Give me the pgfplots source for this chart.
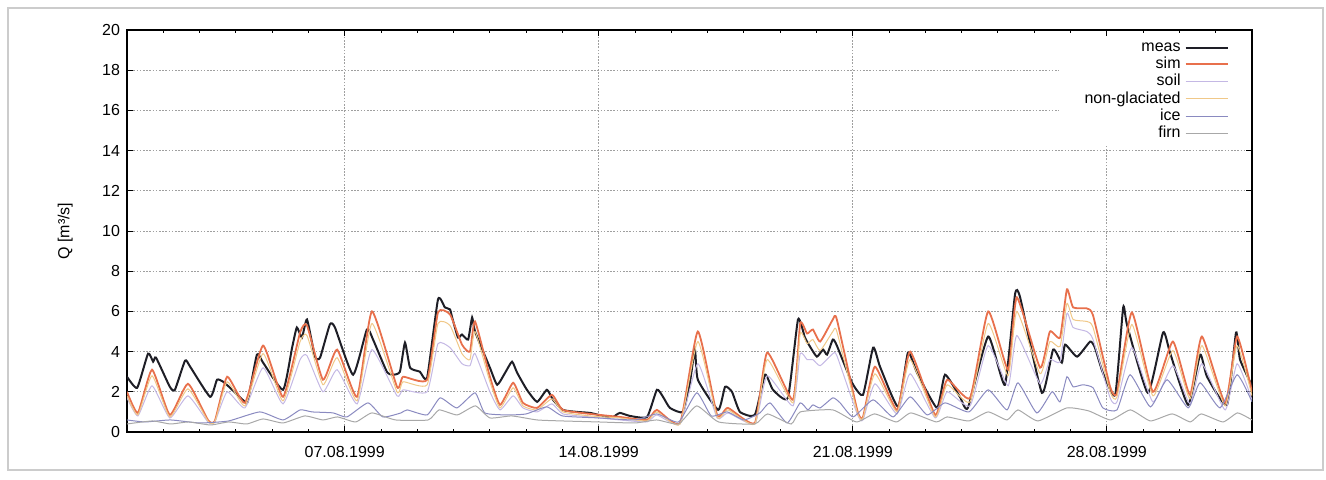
\documentclass[border=0pt]{standalone}
\usepackage{fontspec}
\setmainfont{Liberation Sans}
\usepackage{pgfplots}
\pgfplotsset{compat=1.18}

\definecolor{measc}{HTML}{1E1E26}
\definecolor{simc}{HTML}{E8704C}
\definecolor{soilc}{HTML}{C4B8E4}
\definecolor{ngc}{HTML}{F0C888}
\definecolor{icec}{HTML}{8A8AC0}
\definecolor{firnc}{HTML}{A8A8A8}

\begin{document}
\begin{tikzpicture}
\useasboundingbox (0,0) rectangle (663pt,239.5pt);
\draw[gray!40, line width=0.6pt] (4pt,4.5pt) rectangle (661.5pt,235.5pt);
\begin{axis}[
  at={(63.5pt,23.5pt)}, anchor=south west,
  width=562.5pt, height=201pt, scale only axis,
  xmin=0, xmax=31, ymin=0, ymax=20,
  xtick={6,13,20,27},
  xticklabels={07.08.1999,14.08.1999,21.08.1999,28.08.1999},
  minor xtick={0,...,31},
  ytick={0,2,...,20},
  tick align=inside,
  major tick length=3pt, minor tick length=1.5pt,
  grid=major,
  major grid style={gray!75, line width=0.4pt, dash pattern=on 0.8pt off 0.8pt},
  axis line style={line width=0.7pt},
  every tick/.style={black, line width=0.5pt},
  tick label style={font=\fontsize{8}{9.6}\selectfont},
  xticklabel style={yshift=-3.5pt},
  /pgf/number format/assume math mode=true,
  ylabel={Q [m³/s]},
  ylabel style={at={(axis description cs:-0.055,0.5)}, anchor=center, font=\fontsize{8}{9.6}\selectfont},
  legend style={at={(rel axis cs:1,1)}, anchor=north east, yshift=-3.5pt, xshift=-0.5pt,
    draw=none, fill=white, font=\fontsize{8}{9.6}\selectfont,
    inner xsep=11pt, inner ysep=0.5pt, row sep=-2.6pt},
  legend cell align=right,
  legend plot pos=right,
  legend image code/.code={\draw[#1] (0pt,0pt) -- (21pt,0pt);},
  every axis plot/.append style={smooth, tension=0.3},
]
% measured discharge
\addplot[measc, line width=1pt] coordinates {
(0.00,2.75) (0.28,2.2) (0.58,3.9) (0.72,3.5) (0.80,3.7) (1.18,2.25) (1.32,2.1)
(1.60,3.55) (1.74,3.25) (2.29,1.75) (2.48,2.6) (2.65,2.5) (2.84,2.2) (3.25,1.5)
(3.33,1.55) (3.58,3.85) (3.75,3.45) (4.30,2.1) (4.55,4.2) (4.68,5.2) (4.82,4.7)
(4.96,5.6) (5.18,3.75) (5.32,3.7) (5.59,5.35) (5.73,5.2) (6.23,2.85) (6.61,5.1)
(6.78,4.6) (7.16,3.0) (7.33,2.85) (7.52,3.0) (7.66,4.45) (7.80,3.2) (8.07,3.0)
(8.27,2.7) (8.57,6.6) (8.76,6.2) (8.90,6.1) (8.96,5.7) (9.12,4.7) (9.23,4.85)
(9.40,4.6) (9.51,5.7) (9.59,5.0) (10.00,3.2) (10.20,2.35) (10.42,2.95) (10.61,3.5)
(10.75,2.95) (11.02,2.1) (11.30,1.5) (11.57,2.1) (11.74,1.6) (12.01,1.1) (12.40,1.0)
(12.76,0.95) (13.12,0.8) (13.39,0.75) (13.58,0.95) (13.86,0.8) (14.33,0.75) (14.60,2.1)
(14.77,1.75) (14.96,1.2) (15.32,1.0) (15.51,2.45) (15.65,4.1) (15.73,2.6) (16.29,1.1)
(16.48,2.25) (16.67,2.0) (16.89,1.0) (17.30,0.85) (17.58,2.85) (17.80,2.1) (18.21,1.7)
(18.49,5.6) (18.68,4.7) (18.82,4.25) (19.01,3.75) (19.18,4.1) (19.29,3.85) (19.45,4.6)
(19.56,4.3) (19.98,2.45) (20.28,1.85) (20.56,4.2) (20.75,3.25) (21.25,1.25) (21.52,3.95)
(21.77,2.95) (22.32,1.2) (22.54,2.85) (22.95,1.75) (23.17,1.2) (23.73,4.75) (24.19,2.35)
(24.47,6.85) (24.61,6.7) (25.21,1.95) (25.52,4.1) (25.76,3.45) (25.85,4.35) (26.18,3.75)
(26.54,4.5) (26.67,4.2) (26.89,2.95) (27.23,1.85) (27.45,6.2) (27.56,5.3) (28.13,1.95)
(28.55,4.95) (28.74,3.95) (29.24,1.35) (29.57,3.85) (29.76,2.75) (30.31,1.35) (30.56,4.95)
(30.67,3.6) (31.00,2.3)
};
\addlegendentry{meas}
% simulated total discharge
\addplot[simc, line width=0.9pt] coordinates {
(0.00,2.0) (0.30,0.95) (0.69,3.1) (1.18,0.85) (1.68,2.4) (2.23,0.6) (2.42,0.55)
(2.76,2.75) (3.25,1.45) (3.75,4.3) (4.30,1.75) (4.77,4.95) (4.96,5.3) (5.40,2.6)
(5.79,4.1) (6.34,1.75) (6.75,6.0) (7.44,2.25) (7.61,2.75) (8.27,2.6) (8.57,5.95)
(8.90,5.85) (9.23,4.35) (9.45,4.0) (9.59,5.5) (10.00,2.75) (10.28,1.35) (10.64,2.45)
(10.91,1.45) (11.30,1.2) (11.71,1.85) (12.01,1.1) (12.76,0.9) (13.58,0.75) (14.33,0.6)
(14.60,1.1) (15.24,0.45) (15.73,5.0) (16.26,0.85) (16.56,1.2) (17.30,0.45) (17.64,3.95)
(18.35,1.6) (18.55,5.4) (18.74,4.9) (18.90,5.1) (19.10,4.5) (19.45,5.6) (19.56,5.6)
(20.12,1.1) (20.28,0.75) (20.61,3.25) (21.22,1.1) (21.58,4.0) (22.27,0.85) (22.60,2.6)
(23.23,1.7) (23.73,6.0) (24.28,3.1) (24.52,6.7) (25.16,3.2) (25.43,5.0) (25.71,4.7)
(25.90,7.1) (26.07,6.2) (26.45,6.15) (26.62,5.8) (27.09,2.25) (27.28,1.95) (27.69,5.95)
(28.27,2.0) (28.82,4.5) (29.29,1.85) (29.62,4.75) (30.26,1.45) (30.59,4.75) (31.00,2.0)
};
\addlegendentry{sim}
% soil component
\addplot[soilc, line width=0.5pt] coordinates {
(0.00,1.7) (0.30,0.8) (0.69,2.3) (1.18,0.7) (1.68,1.8) (2.23,0.5) (2.42,0.5)
(2.76,2.0) (3.25,1.2) (3.75,3.2) (4.30,1.4) (4.77,3.6) (4.96,3.8) (5.40,2.0)
(5.79,3.1) (6.34,1.4) (6.75,4.1) (7.44,1.8) (7.61,2.1) (8.27,2.0) (8.57,4.4)
(8.90,4.2) (9.23,3.4) (9.45,3.3) (9.59,3.9) (10.00,2.0) (10.28,1.1) (10.64,1.8)
(10.91,1.2) (11.30,1.0) (11.71,1.4) (12.01,0.9) (12.76,0.75) (13.58,0.6) (14.33,0.5)
(14.60,0.85) (15.24,0.4) (15.73,3.4) (16.26,0.7) (16.56,0.95) (17.30,0.4) (17.64,2.8)
(18.35,1.3) (18.55,3.9) (18.74,3.6) (18.90,3.6) (19.10,3.3) (19.45,3.9) (19.56,3.8)
(20.12,0.9) (20.28,0.6) (20.61,2.4) (21.22,0.9) (21.58,2.9) (22.27,0.7) (22.60,2.0)
(23.23,1.3) (23.73,4.3) (24.28,2.3) (24.52,4.8) (25.16,2.4) (25.43,3.6) (25.71,3.5)
(25.90,5.9) (26.07,5.2) (26.45,5.0) (26.62,4.6) (27.09,1.7) (27.28,1.5) (27.69,4.2)
(28.27,1.5) (28.82,3.3) (29.29,1.4) (29.62,3.4) (30.26,1.1) (30.59,3.4) (31.00,1.6)
};
\addlegendentry{soil}
% non-glaciated area
\addplot[ngc, line width=0.5pt] coordinates {
(0.00,1.8) (0.30,0.85) (0.69,2.8) (1.18,0.75) (1.68,2.15) (2.23,0.55) (2.42,0.5)
(2.76,2.5) (3.25,1.3) (3.75,3.9) (4.30,1.55) (4.77,4.5) (4.96,4.8) (5.40,2.35)
(5.79,3.7) (6.34,1.55) (6.75,5.4) (7.44,2.0) (7.61,2.5) (8.27,2.35) (8.57,5.4)
(8.90,5.3) (9.23,3.9) (9.45,3.6) (9.59,5.0) (10.00,2.5) (10.28,1.2) (10.64,2.2)
(10.91,1.3) (11.30,1.1) (11.71,1.65) (12.01,1.0) (12.76,0.8) (13.58,0.7) (14.33,0.55)
(14.60,1.0) (15.24,0.4) (15.73,4.5) (16.26,0.75) (16.56,1.1) (17.30,0.4) (17.64,3.6)
(18.35,1.45) (18.55,4.9) (18.74,4.4) (18.90,4.6) (19.10,4.05) (19.45,5.0) (19.56,5.0)
(20.12,1.0) (20.28,0.7) (20.61,2.9) (21.22,1.0) (21.58,3.6) (22.27,0.75) (22.60,2.35)
(23.23,1.5) (23.73,5.4) (24.28,2.8) (24.52,6.0) (25.16,2.9) (25.43,4.5) (25.71,4.25)
(25.90,6.4) (26.07,5.6) (26.45,5.5) (26.62,5.2) (27.09,2.0) (27.28,1.75) (27.69,5.35)
(28.27,1.8) (28.82,4.05) (29.29,1.65) (29.62,4.3) (30.26,1.3) (30.59,4.3) (31.00,1.8)
};
\addlegendentry{non-glaciated}
% ice melt component
\addplot[icec, line width=0.5pt] coordinates {
(0.00,0.6) (0.50,0.5) (1.20,0.6) (2.00,0.45) (2.80,0.55) (3.66,1.0) (4.30,0.6)
(4.77,1.1) (5.10,1.0) (5.68,0.95) (6.06,0.75) (6.64,1.45) (7.05,0.75) (7.55,0.95)
(7.72,1.1) (8.27,0.85) (8.63,1.7) (9.09,1.2) (9.59,1.95) (9.86,0.95) (10.50,0.85)
(11.00,0.9) (11.57,1.25) (12.00,0.8) (13.00,0.7) (14.00,0.6) (14.60,0.9) (15.20,0.5)
(15.70,1.95) (16.10,0.8) (16.54,1.0) (17.00,0.6) (17.44,0.95) (17.72,1.45) (18.19,0.45)
(18.55,1.45) (18.76,1.1) (18.90,1.35) (19.10,1.2) (19.45,1.7) (19.65,1.45) (20.01,0.75)
(20.56,1.6) (21.11,0.75) (21.58,1.75) (22.05,0.85) (22.54,1.45) (23.20,1.0) (23.73,2.1)
(24.25,1.1) (24.55,2.45) (25.07,0.95) (25.49,2.0) (25.71,1.5) (25.90,2.75) (26.07,2.25)
(26.34,2.35) (26.62,2.2) (26.89,1.2) (27.28,1.1) (27.64,2.85) (28.20,1.25) (28.66,2.6)
(29.24,1.2) (29.57,2.45) (30.12,1.2) (30.59,2.85) (31.00,1.5)
};
\addlegendentry{ice}
% firn melt component
\addplot[firnc, line width=0.5pt] coordinates {
(0.00,0.4) (0.70,0.55) (1.20,0.4) (1.70,0.5) (2.30,0.35) (2.80,0.5) (3.30,0.4)
(3.75,0.65) (4.30,0.45) (4.90,0.8) (5.40,0.6) (5.80,0.75) (6.30,0.5) (6.75,0.95)
(7.40,0.6) (8.30,0.6) (8.60,1.1) (9.10,0.85) (9.60,1.3) (10.00,0.7) (10.60,0.8)
(11.30,0.6) (12.00,0.55) (13.00,0.5) (14.00,0.45) (14.60,0.6) (15.20,0.4) (15.70,1.3)
(16.30,0.5) (17.30,0.4) (17.65,0.9) (18.30,0.4) (18.55,1.0) (19.45,1.1) (20.10,0.5)
(20.60,0.9) (21.20,0.5) (21.60,0.95) (22.30,0.5) (22.60,0.75) (23.20,0.55) (23.73,1.0)
(24.25,0.6) (24.55,1.1) (25.10,0.55) (25.90,1.2) (26.50,1.05) (27.10,0.6) (27.65,1.1)
(28.20,0.55) (28.80,0.9) (29.30,0.5) (29.60,0.9) (30.20,0.5) (30.60,0.95) (31.00,0.6)
};
\addlegendentry{firn}
\end{axis}
\end{tikzpicture}
\end{document}
